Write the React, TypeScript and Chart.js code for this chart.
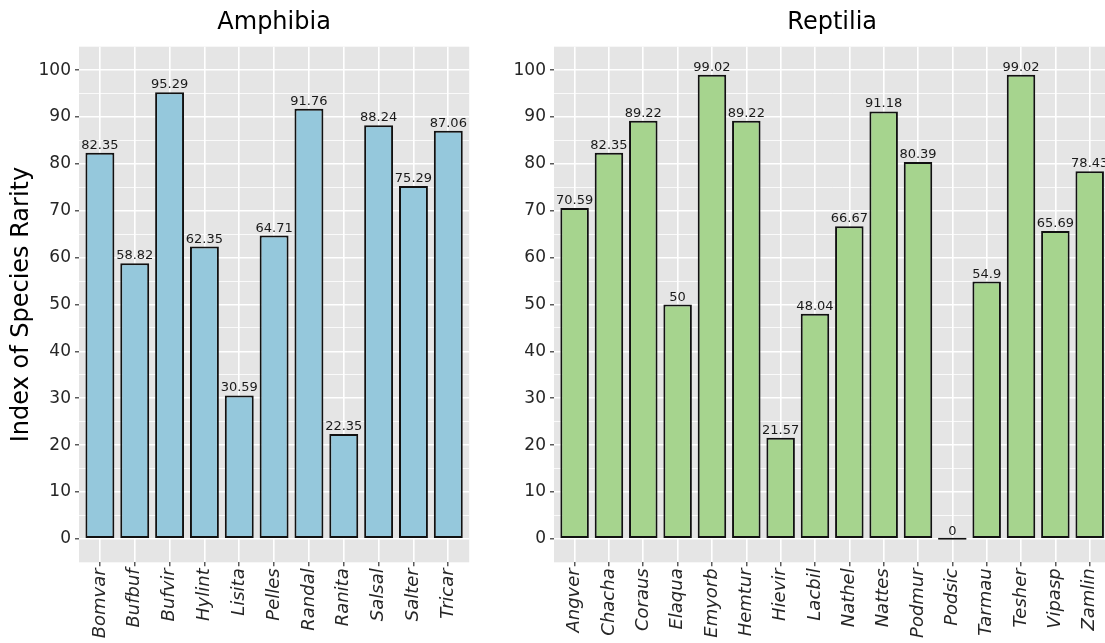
import React, { useEffect, useRef } from "react";
import { Chart, registerables } from "chart.js";

Chart.register(...registerables);

const amphibiaSpecies = ["Bomvar", "Bufbuf", "Bufvir", "Hylint", "Lisita", "Pelles", "Randal", "Ranita", "Salsal", "Salter", "Tricar"];
const amphibiaValues = [82.35, 58.82, 95.29, 62.35, 30.59, 64.71, 91.76, 22.35, 88.24, 75.29, 87.06];

const reptiliaSpecies = ["Angver", "Chacha", "Coraus", "Elaqua", "Emyorb", "Hemtur", "Hievir", "Lacbil", "Nathel", "Nattes", "Podmur", "Podsic", "Tarmau", "Tesher", "Vipasp", "Zamlin"];
const reptiliaValues = [70.59, 82.35, 89.22, 50, 99.02, 89.22, 21.57, 48.04, 66.67, 91.18, 80.39, 0, 54.9, 99.02, 65.69, 78.43];

const yMajorTicks = [0, 10, 20, 30, 40, 50, 60, 70, 80, 90, 100];
const yMinorTicks = [5, 15, 25, 35, 45, 55, 65, 75, 85, 95];
const yMin = -5;
const yMax = 105;

const FONT = "'DejaVu Sans', 'Liberation Sans', sans-serif";
const H = 643;

type PanelProps = {
  title: string;
  labels: string[];
  values: number[];
  color: string;
  showYTitle: boolean;
  left: number;
  width: number;
  yAxisWidth: number;
  padRight: number;
};

function Panel(props: PanelProps) {
  const ref = useRef<HTMLCanvasElement | null>(null);
  useEffect(() => {
    const canvas = ref.current;
    if (!canvas) return;
    const { labels, values } = props;
    const n = labels.length;

    const bgPlugin = {
      id: "panelBg",
      beforeDraw(chart: any) {
        const { ctx, chartArea } = chart;
        ctx.save();
        ctx.fillStyle = "#ffffff";
        ctx.fillRect(0, 0, chart.width, chart.height);
        ctx.fillStyle = "#E5E5E5";
        ctx.fillRect(chartArea.left, chartArea.top, chartArea.right - chartArea.left, chartArea.bottom - chartArea.top);
        ctx.restore();
      },
    };

    const labelPlugin = {
      id: "valueLabels",
      afterDatasetsDraw(chart: any) {
        const { ctx } = chart;
        const xs = chart.scales.x;
        const ys = chart.scales.y;
        ctx.save();
        ctx.font = `13px ${FONT}`;
        ctx.fillStyle = "#1a1a1a";
        ctx.textAlign = "center";
        ctx.textBaseline = "alphabetic";
        values.forEach((v, i) => {
          ctx.fillText(String(v), xs.getPixelForValue(i), ys.getPixelForValue(v) - 4);
        });
        ctx.restore();
      },
    };

    const chart = new Chart(canvas, {
      type: "bar",
      data: {
        datasets: [
          {
            data: values.map((v, i) => ({ x: i, y: v })),
            backgroundColor: props.color,
            borderColor: "#111111",
            borderWidth: 2,
            borderSkipped: false,
            minBarLength: 2,
            barPercentage: 0.83,
            categoryPercentage: 1,
          } as any,
        ],
      },
      options: {
        responsive: false,
        animation: false,
        layout: { padding: { left: 0, right: props.padRight, top: 0, bottom: 0 } },
        plugins: {
          legend: { display: false },
          tooltip: { enabled: false },
          title: {
            display: true,
            text: props.title,
            fullSize: false,
            color: "#000000",
            font: { family: FONT, size: 24, weight: "normal" },
            padding: { top: 8.6, bottom: 9.3 },
          } as any,
        },
        scales: {
          x: {
            type: "linear",
            bounds: "data",
            offset: false,
            min: -0.6,
            max: n - 1 + 0.6,
            afterBuildTicks: (s: any) => {
              s.ticks = labels.map((_, i) => ({ value: i }));
            },
            afterFit: (s: any) => {
              s.height = H - 562.3;
            },
            ticks: {
              autoSkip: false,
              minRotation: 90,
              maxRotation: 90,
              padding: 2,
              color: "#262626",
              font: { family: FONT, size: 18, style: "italic" },
              callback: (v: any) => labels[Math.round(Number(v))] ?? "",
            },
            grid: {
              offset: false,
              color: "#ffffff",
              lineWidth: 1.6,
              tickColor: "#333333",
              tickLength: 4,
              tickWidth: 1.2,
            },
            border: { display: false },
          },
          y: {
            type: "linear",
            bounds: "data",
            min: yMin,
            max: yMax,
            afterBuildTicks: (s: any) => {
              s.ticks = [...yMajorTicks, ...yMinorTicks].sort((a, b) => a - b).map((v) => ({ value: v }));
            },
            afterFit: (s: any) => {
              s.width = props.yAxisWidth;
            },
            ticks: {
              padding: 4,
              color: "#262626",
              font: { family: FONT, size: 17 },
              callback: (v: any) => (yMajorTicks.includes(Number(v)) ? String(v) : ""),
            },
            grid: {
              color: "#ffffff",
              lineWidth: (c: any) => (c.tick && yMajorTicks.includes(c.tick.value) ? 1.6 : 0.8),
              tickColor: (c: any) => (c.tick && yMajorTicks.includes(c.tick.value) ? "#333333" : "rgba(0,0,0,0)"),
              tickLength: 4,
              tickWidth: 1.2,
            },
            border: { display: false },
            title: {
              display: props.showYTitle,
              text: "Index of Species Rarity",
              color: "#000000",
              font: { family: FONT, size: 24 },
              padding: { top: 7, bottom: 0 },
            },
          },
        },
      } as any,
      plugins: [bgPlugin, labelPlugin],
    });
    return () => chart.destroy();
  }, []);

  return (
    <canvas
      ref={ref}
      width={props.width}
      height={H}
      style={{ position: "absolute", left: props.left, top: 0, width: props.width, height: H, display: "block" }}
    />
  );
}

export default function App() {
  return (
    <div style={{ position: "absolute", left: 0, top: 0, width: 1105, height: H, overflow: "hidden", background: "#ffffff" }}>
      <Panel
        title="Amphibia"
        labels={amphibiaSpecies}
        values={amphibiaValues}
        color="#95C8DC"
        showYTitle={true}
        left={0}
        width={490}
        yAxisWidth={79}
        padRight={20.8}
      />
      <Panel
        title="Reptilia"
        labels={reptiliaSpecies}
        values={reptiliaValues}
        color="#A6D48E"
        showYTitle={false}
        left={490}
        width={640}
        yAxisWidth={64}
        padRight={19.7}
      />
    </div>
  );
}
